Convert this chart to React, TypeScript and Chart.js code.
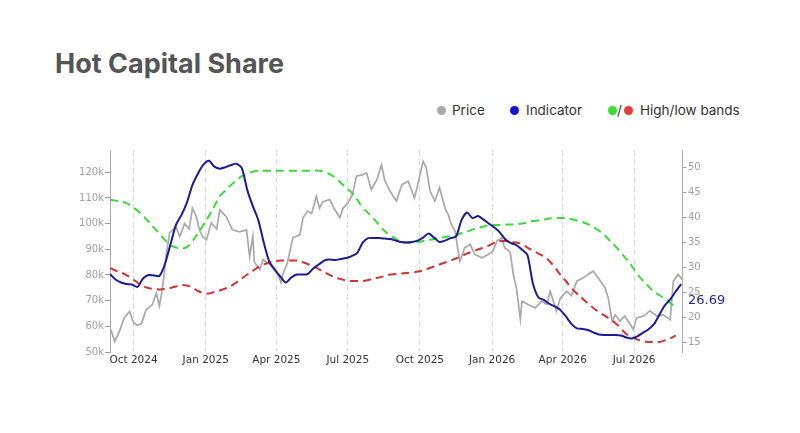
import React, { useEffect, useRef } from 'react';
import { Chart, registerables } from 'chart.js';

Chart.register(...registerables);

// ---- data ----
const startDate = '2024-09-01';
const axisEndDate = '2026-08-31';
const stepDays = 7; // indicator and bands: weekly samples from startDate

// price readings: day offset from startDate, value in thousands of USD
const priceDays = [
  1, 6, 12, 18, 25, 30, 35, 40, 46, 54,
  59, 63, 67, 72, 76, 80, 84, 89, 95, 101,
  105, 110, 114, 118, 123, 129, 136, 140, 148, 156,
  165, 174, 178, 182, 184, 191, 195, 204, 207, 214,
  218, 220, 226, 233, 242, 246, 252, 257, 263, 267,
  271, 280, 286, 293, 297, 303, 309, 314, 321, 327,
  333, 340, 346, 350, 357, 365, 372, 380, 388, 392,
  399, 403, 408, 414, 420, 427, 431, 435, 440, 443,
  446, 452, 459, 465, 474, 482, 488, 493, 499, 503,
  510, 514, 518, 523, 525, 533, 542, 550, 557, 561,
  569, 574, 582, 588, 595, 603, 609, 616, 622, 631,
  635, 640, 644, 650, 656, 663, 667, 671, 680, 688,
  697, 705, 714, 718, 724, 729,
];
const priceK = [
  58.8, 54.1, 58, 63.3, 65.8, 61.4, 60.4, 61, 66.5, 68.4,
  73, 68, 75, 88.6, 96.4, 97.6, 98.9, 95, 100, 98,
  106, 102.8, 97.6, 95, 93.7, 100.3, 98, 105.4, 102.8, 97.6,
  96.8, 97.6, 87.2, 95, 85, 82, 86, 84, 82.8, 80,
  77, 80, 84.7, 94.5, 95.7, 102.3, 104.9, 104, 110.7, 106,
  108.5, 109.4, 105.7, 102.3, 106, 108, 111.3, 118.5, 119, 119.8,
  113.3, 117, 123, 117, 112.6, 108.8, 115.2, 116.5, 110, 115,
  124.3, 121.8, 112.6, 108.8, 114, 106, 103.5, 99.7, 97, 90.6,
  85.4, 90.6, 91.9, 88, 86.7, 88, 89.3, 93.2, 94.5, 90.6,
  89, 80.2, 75, 62.7, 69.8, 68.5, 67.2, 69.8, 68.5, 73.7,
  66, 71, 73.7, 72, 77.6, 78.9, 80.2, 81.5, 78.9, 75,
  71, 62, 64.5, 62, 64, 60.7, 58.8, 63.3, 64, 66,
  64, 64.5, 62.7, 77.6, 80.2, 78.3,
];

const indicator = [
  28.7, 27.6, 27.0, 26.7, 26.6, 26.1, 27.8, 28.5, 28.4, 28.3,
  30.7, 34.6, 38.5, 40.5, 43, 46.5, 48.8, 50.6, 51.4, 50.2,
  49.8, 50.1, 50.5, 50.8, 49.9, 45.5, 42.3, 39.5, 35, 31.2,
  29.6, 28.2, 27, 28, 28.6, 28.6, 28.7, 29.8, 30.6, 31.4,
  31.6, 31.5, 31.7, 31.9, 32.3, 32.9, 35, 35.9, 35.9, 35.9,
  35.8, 35.7, 35.4, 35.1, 35.0, 35.1, 35.4, 36.0, 36.8, 36.0,
  35.1, 35.4, 35.9, 36.2, 39.5, 41, 39.9, 40.3, 39.6, 38.8,
  38, 37, 35.6, 34.9, 34.5, 33.6, 32.5, 26.8, 24.0, 23.5,
  22.7, 22.2, 21.5, 20.2, 18.7, 17.8, 17.7, 17.5, 17.0, 16.6,
  16.5, 16.5, 16.5, 16.4, 16.0, 15.8, 16.2, 16.9, 17.6, 18.6,
  20.5, 22.4, 23.6, 25.2, 26.69,
];

const highBand = [
  43.6, 43.4, 43.2, 42.9, 42.2, 41.4, 40.4, 39.2, 38.0, 36.8,
  35.5, 34.5, 34.0, 33.8, 34.1, 35.3, 36.8, 38.5, 40.3, 42.3,
  44.3, 45.4, 46.5, 47.4, 48.3, 48.8, 49.2, 49.4, 49.4, 49.4,
  49.4, 49.4, 49.4, 49.4, 49.4, 49.4, 49.4, 49.4, 49.4, 49.2,
  48.7, 48.0, 47.0, 46.0, 45.0, 43.6, 42.0, 40.9, 39.8, 38.5,
  37.3, 36.4, 35.8, 35.2, 35.0, 35.0, 35.1, 35.3, 35.5, 35.7,
  35.9, 36.1, 36.3, 36.5, 36.9, 37.2, 37.6, 37.9, 38.2, 38.4,
  38.5, 38.5, 38.6, 38.6, 38.7, 38.8, 39.0, 39.3, 39.4, 39.6,
  39.8, 39.9, 39.9, 39.9, 39.7, 39.4, 39.1, 38.7, 38.1, 37.4,
  36.5, 35.4, 34.3, 33.0, 31.7, 30.3, 28.7, 27.4, 26.3, 25.2,
  24.5, 23.7, 22.9, 21.9, null,
];

const lowBand = [
  29.9, 29.4, 29.0, 28.5, 27.8, 27.0, 26.3, 25.9, 25.7, 25.6,
  25.7, 25.9, 26.2, 26.5, 26.4, 26.0, 25.3, 24.9, 24.8, 25.1,
  25.4, 25.8, 26.3, 27.0, 27.8, 28.6, 29.3, 30.1, 30.6, 31.0,
  31.2, 31.4, 31.4, 31.4, 31.4, 31.1, 30.7, 30.2, 29.7, 29.1,
  28.5, 28.0, 27.7, 27.4, 27.3, 27.3, 27.3, 27.5, 27.8, 28.0,
  28.3, 28.6, 28.7, 28.8, 28.9, 29.0, 29.2, 29.4, 29.8, 30.2,
  30.6, 31.0, 31.4, 31.8, 32.3, 32.8, 33.2, 33.6, 34.0, 34.4,
  35.0, 35.3, 35.3, 35.1, 35.0, 34.7, 34.0, 33.4, 32.8, 32.2,
  31.3, 30.0, 28.6, 27.3, 25.9, 24.8, 23.8, 22.8, 21.9, 21.1,
  20.4, 19.7, 18.9, 17.8, 16.7, 16.1, 15.6, 15.3, 15.1, 15.1,
  15.1, 15.4, 15.8, 16.4, null,
];

const xTickLabels = ['Oct 2024', 'Jan 2025', 'Apr 2025', 'Jul 2025', 'Oct 2025', 'Jan 2026', 'Apr 2026', 'Jul 2026'];
const xTickDates = ['2024-10-01', '2025-01-01', '2025-04-01', '2025-07-01', '2025-10-01', '2026-01-01', '2026-04-01', '2026-07-01'];
const priceTicksK = [50, 60, 70, 80, 90, 100, 110, 120];
const indicatorTicks = [15, 20, 25, 30, 35, 40, 45, 50];

const legendItems = [
  { label: 'Price', colors: ['#a9a9a9'] },
  { label: 'Indicator', colors: ['#1414d2'] },
  { label: 'High/low bands', colors: ['#33e033', '#e83a3a'] },
];

// ---- helpers ----
const DAY = 86400000;
const dayOf = (s: string) => Math.round((Date.parse(s) - Date.parse(startDate)) / DAY);
const toWeekly = (arr: (number | null)[]) => arr.map((v, i) => ({ x: i * stepDays, y: v }));
const pricePoints = () => priceK.map((v, i) => ({ x: priceDays[i], y: v }));

const FONT = '"DejaVu Sans", sans-serif';

const lastValueLabel = {
  id: 'lastValueLabel',
  afterDatasetsDraw(chart: any) {
    const scale = chart.scales.yR;
    const last = indicator[indicator.length - 1];
    const y = scale.getPixelForValue(last);
    const ctx = chart.ctx;
    ctx.save();
    ctx.font = `13px ${FONT}`;
    ctx.fillStyle = '#2626ad';
    ctx.textAlign = 'left';
    ctx.textBaseline = 'middle';
    ctx.fillText(last.toFixed(2), scale.left + 6, y + 17);
    ctx.restore();
  },
};

function HotCapitalChart() {
  const ref = useRef<HTMLCanvasElement | null>(null);
  useEffect(() => {
    if (!ref.current) return;
    const xTickDays = xTickDates.map(dayOf);
    const chart = new Chart(ref.current, {
      type: 'line',
      data: {
        datasets: [
          {
            label: 'Indicator',
            data: toWeekly(indicator),
            yAxisID: 'yR',
            borderColor: '#1b1b95',
            borderWidth: 2,
            pointRadius: 0,
            tension: 0.25,
            order: 0,
          },
          {
            label: 'High band',
            data: toWeekly(highBand),
            yAxisID: 'yR',
            borderColor: '#3cd93c',
            borderWidth: 2,
            borderDash: [8, 5],
            pointRadius: 0,
            tension: 0.4,
            order: 1,
          },
          {
            label: 'Low band',
            data: toWeekly(lowBand),
            yAxisID: 'yR',
            borderColor: '#cf3434',
            borderWidth: 2,
            borderDash: [8, 5],
            pointRadius: 0,
            tension: 0.4,
            order: 2,
          },
          {
            label: 'Price',
            data: pricePoints(),
            yAxisID: 'yL',
            borderColor: '#a8a8a8',
            borderWidth: 1.7,
            pointRadius: 0,
            tension: 0,
            order: 3,
          },
        ],
      },
      options: {
        responsive: false,
        animation: false,
        parsing: true,
        layout: { padding: { left: 70, right: 78, top: 150, bottom: 51 } },
        plugins: { legend: { display: false }, tooltip: { enabled: false }, title: { display: false } },
        scales: {
          x: {
            type: 'linear',
            min: 0,
            max: dayOf(axisEndDate),
            afterBuildTicks: (scale: any) => {
              scale.ticks = xTickDays.map((v) => ({ value: v }));
            },
            afterFit: (scale: any) => {
              scale.height = 30;
            },
            ticks: {
              autoSkip: false,
              maxRotation: 0,
              padding: 2,
              color: '#333333',
              font: { family: FONT, size: 10.5 },
              callback: (_v: any, i: number) => xTickLabels[i],
            },
            grid: { color: '#d9d9d9', lineWidth: 1, drawTicks: false },
            border: { display: false, dash: [6, 3] },
          },
          yL: {
            type: 'linear',
            position: 'left',
            min: 50,
            max: 128.7,
            afterBuildTicks: (scale: any) => {
              scale.ticks = priceTicksK.map((v) => ({ value: v }));
            },
            afterFit: (scale: any) => {
              scale.width = 40;
            },
            ticks: {
              padding: 1,
              color: '#a0a0a0',
              font: { family: FONT, size: 10 },
              callback: (v: any) => `${v}k`,
            },
            grid: { drawOnChartArea: false, drawTicks: true, tickLength: 5, tickColor: '#9a9a9a' },
            border: { display: true, color: '#aaaaaa', width: 1 },
          },
          yR: {
            type: 'linear',
            position: 'right',
            min: 13.08,
            max: 53.54,
            afterBuildTicks: (scale: any) => {
              scale.ticks = indicatorTicks.map((v) => ({ value: v }));
            },
            afterFit: (scale: any) => {
              scale.width = 40;
            },
            ticks: {
              padding: 2,
              color: '#a0a0a0',
              font: { family: FONT, size: 10 },
              callback: (v: any) => `${v}`,
            },
            grid: { drawOnChartArea: false, drawTicks: true, tickLength: 4, tickColor: '#9a9a9a' },
            border: { display: true, color: '#aaaaaa', width: 1 },
          },
        },
      },
      plugins: [lastValueLabel],
    } as any);
    return () => chart.destroy();
  }, []);

  return (
    <canvas
      ref={ref}
      width={800}
      height={433}
      style={{ position: 'absolute', left: 0, top: 0, width: 800, height: 433 }}
    />
  );
}

function Legend() {
  const positions = [
    { dots: [441.5], text: 452 },
    { dots: [514], text: 526 },
    { dots: [612, 628.3], text: 640 },
  ];
  const textStyle: React.CSSProperties = {
    position: 'absolute',
    top: 103,
    height: 14,
    lineHeight: '14px',
    fontFamily: 'Inter, "Noto Sans", sans-serif',
    fontSize: 13.5,
    color: '#333333',
    whiteSpace: 'nowrap',
  };
  return (
    <>
      {legendItems.map((item, i) => (
        <React.Fragment key={item.label}>
          {item.colors.map((c, j) => (
            <span
              key={c}
              style={{
                position: 'absolute',
                left: positions[i].dots[j] - 4.5,
                top: 105.5,
                width: 9,
                height: 9,
                borderRadius: '50%',
                background: c,
              }}
            />
          ))}
          {item.colors.length > 1 && (
            <span style={{ ...textStyle, left: 617 }}>/</span>
          )}
          <span style={{ ...textStyle, left: positions[i].text }}>{item.label}</span>
        </React.Fragment>
      ))}
    </>
  );
}

export default function App() {
  return (
    <div style={{ position: 'absolute', left: 0, top: 0, width: 800, height: 433, background: '#ffffff', overflow: 'hidden' }}>
      <div
        style={{
          position: 'absolute',
          left: 55,
          top: 50,
          fontFamily: 'Inter, "Noto Sans", sans-serif',
          fontWeight: 700,
          fontSize: 27,
          lineHeight: '27px',
          color: '#555555',
          whiteSpace: 'nowrap',
        }}
      >
        Hot Capital Share
      </div>
      <Legend />
      <HotCapitalChart />
    </div>
  );
}
